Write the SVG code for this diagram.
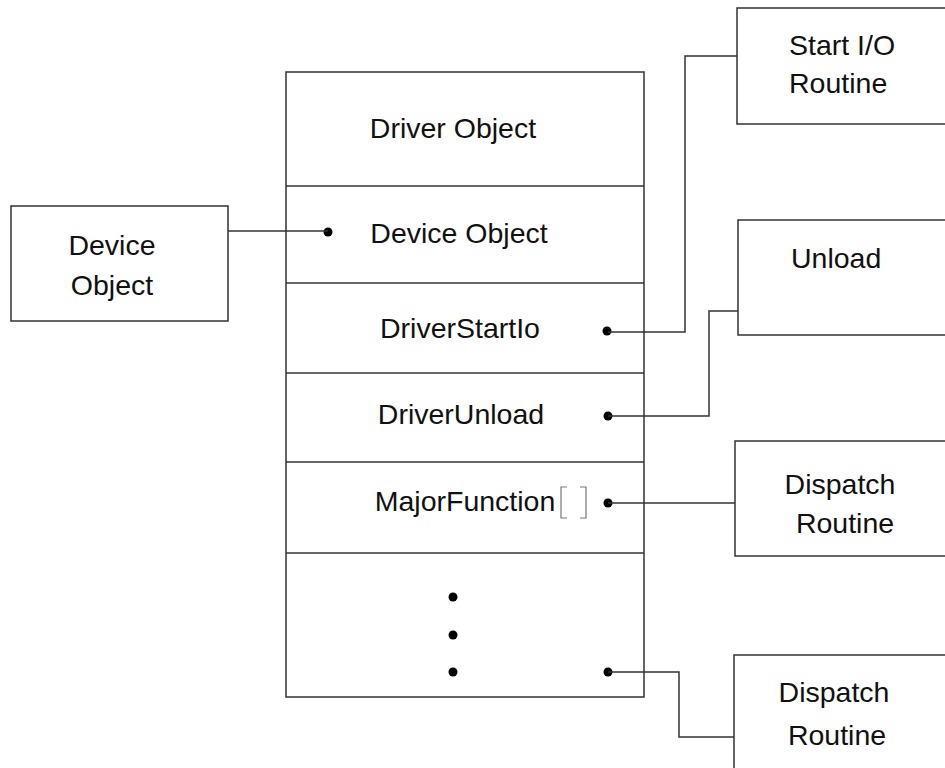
<svg xmlns="http://www.w3.org/2000/svg" width="945" height="768" viewBox="0 0 945 768">
<style>
.box{fill:#fff;stroke:#333;stroke-width:1.5}
.ln{fill:none;stroke:#333;stroke-width:1.5}
.t{font-family:"Liberation Sans",Arial,sans-serif;font-size:28.5px;fill:#111}
.m{text-anchor:middle}
.dot{fill:#000}
.br{fill:none;stroke:#777;stroke-width:1.2}
</style>
<rect width="945" height="768" fill="#fff"/>
<g id="driver-object">
<rect class="box" x="286" y="72" width="358" height="625"/>
<line class="ln" x1="286" y1="186" x2="644" y2="186"/>
<line class="ln" x1="286" y1="283" x2="644" y2="283"/>
<line class="ln" x1="286" y1="373" x2="644" y2="373"/>
<line class="ln" x1="286" y1="462" x2="644" y2="462"/>
<line class="ln" x1="286" y1="553" x2="644" y2="553"/>
<text class="t m" x="453" y="138">Driver Object</text>
<text class="t m" x="459" y="243">Device Object</text>
<text class="t m" x="460" y="338">DriverStartIo</text>
<text class="t m" x="461" y="424">DriverUnload</text>
<text class="t m" x="465" y="511">MajorFunction</text>
<polyline class="br" points="567,487 561,487 561,518 567,518"/>
<polyline class="br" points="580,487 586,487 586,518 580,518"/>
<circle class="dot" cx="328" cy="232" r="4.5"/>
<circle class="dot" cx="607" cy="331" r="4.5"/>
<circle class="dot" cx="608" cy="416" r="4.5"/>
<circle class="dot" cx="608" cy="503" r="4.5"/>
<circle class="dot" cx="453" cy="597" r="4.5"/>
<circle class="dot" cx="453" cy="635" r="4.5"/>
<circle class="dot" cx="453" cy="672" r="4.5"/>
<circle class="dot" cx="608" cy="672" r="4.5"/>
</g>
<g id="device-object">
<rect class="box" x="11" y="206" width="217" height="115"/>
<text class="t m" x="112" y="255">Device</text>
<text class="t m" x="112" y="295">Object</text>
</g>
<g id="start-io">
<rect class="box" x="737" y="8" width="220" height="116"/>
<text class="t" x="789" y="55">Start I/O</text>
<text class="t" x="789" y="93">Routine</text>
</g>
<g id="unload">
<rect class="box" x="738" y="220" width="220" height="115"/>
<text class="t" x="791" y="268">Unload</text>
</g>
<g id="dispatch1">
<rect class="box" x="735" y="441" width="220" height="115"/>
<text class="t m" x="840" y="494">Dispatch</text>
<text class="t m" x="845" y="533">Routine</text>
</g>
<g id="dispatch2">
<rect class="box" x="734" y="655" width="220" height="130"/>
<text class="t m" x="834" y="702">Dispatch</text>
<text class="t m" x="837" y="745">Routine</text>
</g>
<g id="connectors">
<polyline class="ln" points="228,231 328,231"/>
<polyline class="ln" points="608,332 685,332 685,56 737,56"/>
<polyline class="ln" points="608,416 709,416 709,311 738,311"/>
<polyline class="ln" points="608,503 735,503"/>
<polyline class="ln" points="608,672 679,672 679,737 734,737"/>
</g>
</svg>
